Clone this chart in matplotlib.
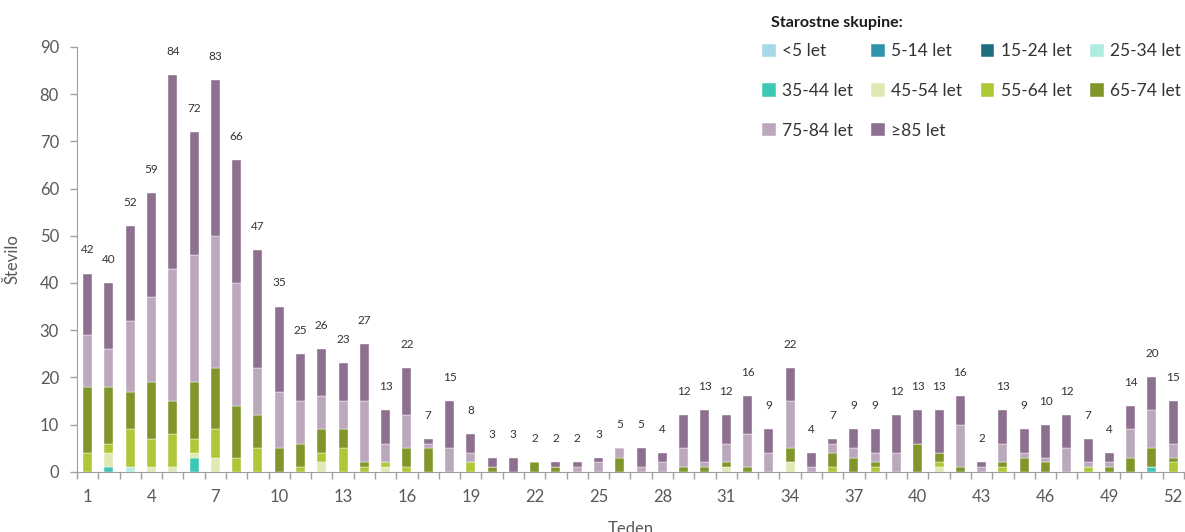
import matplotlib
matplotlib.use("Agg")
import matplotlib.pyplot as plt
import numpy as np

plt.rcParams["font.family"] = ["Lato", "DejaVu Sans"]

weeks = np.arange(1, 53)

groups = ["<5 let", "5-14 let", "15-24 let", "25-34 let", "35-44 let",
          "45-54 let", "55-64 let", "65-74 let", "75-84 let", "≥85 let"]
colors = ["#a6d9e8", "#2e95ad", "#1f6e80", "#b0ebe0", "#3cc8b4",
          "#dfe9b4", "#adc836", "#80962a", "#bba8bd", "#8d6f8f"]

# weekly deaths per age group
lt5   = [0] * 52
a5_14 = [0] * 52
a15_24 = [0] * 52
a25_34 = [0, 0, 1] + [0] * 49
a35_44 = [0, 1, 0, 0, 0, 3] + [0] * 44 + [1, 0]
a45_54 = [0, 3, 0, 1, 1, 1, 3, 0, 0, 0, 0, 2, 0, 0, 1, 0, 0, 0, 0, 0,
          0, 0, 0, 0, 0, 0, 0, 0, 0, 0, 1, 0, 0, 2, 0, 0, 0, 0, 0, 0,
          1, 0, 0, 0, 0, 0, 0, 0, 0, 0, 0, 0]
a55_64 = [4, 2, 8, 6, 7, 3, 6, 3, 5, 0, 1, 2, 5, 1, 1, 1, 0, 0, 2, 0,
          0, 0, 0, 0, 0, 0, 0, 0, 0, 0, 0, 0, 0, 0, 0, 1, 0, 1, 0, 0,
          1, 0, 0, 1, 0, 0, 0, 1, 0, 0, 0, 2]
a65_74 = [14, 12, 8, 12, 7, 12, 13, 11, 7, 5, 5, 5, 4, 1, 0, 4, 5, 0, 0, 1,
          0, 2, 1, 0, 0, 3, 0, 0, 1, 1, 1, 1, 0, 3, 0, 3, 3, 1, 0, 6,
          2, 1, 0, 1, 3, 2, 0, 0, 1, 3, 4, 1]
a75_84 = [11, 8, 15, 18, 28, 27, 28, 26, 10, 12, 9, 7, 6, 13, 4, 7, 1, 5, 2, 0,
          0, 0, 0, 1, 2, 2, 1, 2, 4, 1, 4, 7, 4, 10, 1, 2, 2, 2, 4, 0,
          0, 9, 1, 4, 1, 1, 5, 1, 1, 6, 8, 3]
a85 = [13, 14, 20, 22, 41, 26, 33, 26, 25, 18, 10, 10, 8, 12, 7, 10, 1, 10, 4, 2,
       3, 0, 1, 1, 1, 0, 4, 2, 7, 11, 6, 8, 5, 7, 3, 1, 4, 5, 8, 7,
       9, 6, 1, 7, 5, 7, 7, 5, 2, 5, 7, 9]

series = [lt5, a5_14, a15_24, a25_34, a35_44, a45_54, a55_64, a65_74, a75_84, a85]

fig = plt.figure(figsize=(11.85, 5.32), dpi=100)
ax = fig.add_axes([0.065, 0.113, 0.934, 0.799])

grey = "#595959"
bottom = np.zeros(len(weeks))
handles = []
for vals, col, name in zip(series, colors, groups):
    vals = np.array(vals, dtype=float)
    b = ax.bar(weeks, vals, width=0.42, bottom=bottom, color=col,
               edgecolor="white", linewidth=0.3, label=name)
    handles.append(b)
    bottom += vals

for w, tot in zip(weeks, bottom):
    ax.text(w, tot + 5, f"{int(tot)}", ha="center", va="center",
            fontsize=8.5, color="#333333")

ax.set_xlim(0.5, 52.5)
ax.set_ylim(0, 90)
ax.set_yticks(np.arange(0, 91, 10))
ax.set_xticks(weeks[::3])
ax.set_xticks(np.arange(0.5, 53, 1), minor=True)
ax.tick_params(axis="x", which="major", length=0, pad=12, labelsize=12, labelcolor=grey)
ax.tick_params(axis="x", which="minor", length=5, color="#a0a0a0", width=1)
ax.tick_params(axis="y", length=5, color="#a0a0a0", width=1, pad=8,
               labelsize=12, labelcolor=grey)

for s in ["top", "right"]:
    ax.spines[s].set_visible(False)
for s in ["left", "bottom"]:
    ax.spines[s].set_color("#a0a0a0")

ax.set_ylabel("Število", fontsize=12, color=grey, labelpad=14)
ax.set_xlabel("Teden", fontsize=12, color=grey, labelpad=12)

# legend: title as separate text, entries laid out row by row
fig.text(0.651, 0.957, "Starostne skupine:", fontsize=11.5, fontweight="bold",
         color="#1a1a1a", ha="left", va="center")
order = [0, 4, 8, 1, 5, 9, 2, 6, 3, 7]
leg = fig.legend([handles[i] for i in order], [groups[i] for i in order],
                 loc="upper left", bbox_to_anchor=(0.630, 0.948), ncol=4,
                 frameon=False, fontsize=12.5,
                 handlelength=0.8, handleheight=0.8,
                 handletextpad=0.35, columnspacing=1.05, labelspacing=1.36)
for t in leg.get_texts():
    t.set_color("#333333")

fig.savefig("out.png", dpi=100)
